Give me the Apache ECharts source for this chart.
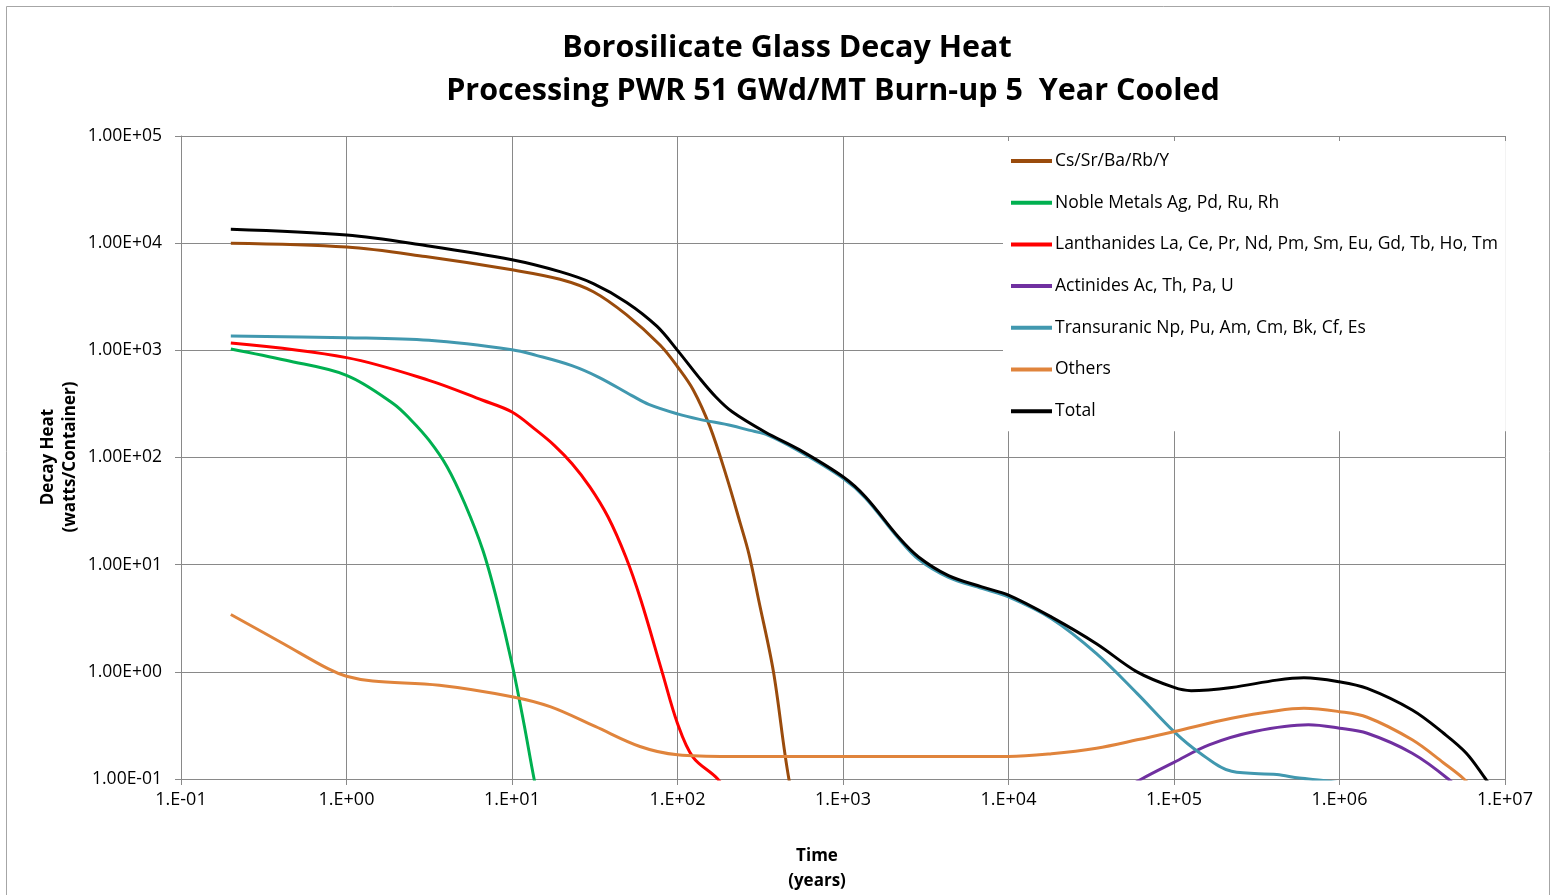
<!DOCTYPE html>
<html>
<head>
<meta charset="utf-8">
<title>Borosilicate Glass Decay Heat</title>
<script src="https://cdn.jsdelivr.net/npm/echarts@6/dist/echarts.min.js"></script>
<style>
  html, body { margin: 0; padding: 0; background: #fff; }
  #chart { width: 1557px; height: 895px; }
</style>
</head>
<body>
<div id="chart"></div>
<script>
// Decay heat per container (watts) versus time (years), by element group.
// Each series is a list of [time, watts] pairs.
const csSrBaRbY = [
  [0.2, 10000], [1, 9200], [3, 7500], [10, 5640], [19.5, 4600], [31, 3520],
  [49.3, 2140], [78.4, 1120], [100, 703], [124.5, 427], [157, 194],
  [198, 66], [240, 24], [270, 12.6], [310, 4.6], [380, 1.0], [471, 0.1],
  [550, 0.04]
];
const nobleMetals = [
  [0.2, 1030], [0.43, 807], [1, 585], [1.92, 318], [2.46, 223], [3.15, 145],
  [4.05, 82], [5.19, 37], [6.66, 13.7], [8.1, 4.7], [10, 1.19], [11.8, 0.33],
  [13.6, 0.1], [15, 0.05]
];
const lanthanides = [
  [0.2, 1170], [1, 855], [3.15, 525], [6.65, 342], [10, 266], [14, 180],
  [18, 130], [23, 88], [29.6, 53], [38, 28], [48.6, 11.9], [60, 4.7],
  [80.7, 1.0], [100, 0.33], [124, 0.16], [175, 0.1], [220, 0.06]
];
const actinides = [
  [40000, 0.065], [63700, 0.1], [100000, 0.143], [163000, 0.208],
  [306000, 0.277], [649000, 0.32], [1000000, 0.298], [1470000, 0.267],
  [2750000, 0.174], [4540000, 0.1], [6000000, 0.065]
];
const transuranic = [
  [0.2, 1360], [1, 1312], [3.15, 1240], [10, 1015], [14, 898], [23, 720],
  [33.5, 560], [53, 378], [67, 313], [100, 255], [134, 228], [214, 198],
  [270, 180], [340, 165], [540, 115], [1000, 64], [1365, 42], [2170, 17.5],
  [2860, 11.2], [4340, 7.6], [6900, 6.0], [10000, 5.0], [18200, 3.13],
  [34000, 1.48], [59800, 0.63], [100000, 0.277], [144000, 0.174],
  [223000, 0.118], [418000, 0.11], [571000, 0.102], [887000, 0.095],
  [1500000, 0.08]
];
const others = [
  [0.2, 3.43], [0.416, 1.83], [0.773, 1.07], [1, 0.91], [1.44, 0.82],
  [3.64, 0.75], [10, 0.586], [17, 0.473], [31.8, 0.309], [59.3, 0.201],
  [100, 0.168], [205, 0.162], [1080, 0.162], [10000, 0.162], [18200, 0.172],
  [34000, 0.194], [59800, 0.232], [100000, 0.277], [223000, 0.369],
  [418000, 0.434], [609000, 0.457], [1000000, 0.425], [1470000, 0.377],
  [2750000, 0.232], [4260000, 0.141], [5650000, 0.1], [7000000, 0.07]
];
const total = [
  [0.2, 13500], [1, 11900], [3, 9500], [10, 7000], [19.5, 5420], [31, 4200],
  [49.3, 2800], [75, 1680], [100, 1000], [134, 565], [170, 369], [214, 267],
  [340, 172], [540, 119], [1000, 66], [1365, 43], [2170, 18], [2860, 11.8],
  [4340, 7.9], [6900, 6.2], [10000, 5.2], [18200, 3.24], [34000, 1.83],
  [59800, 1.0], [100000, 0.715], [127000, 0.667], [223000, 0.715],
  [418000, 0.837], [609000, 0.88], [1000000, 0.807], [1470000, 0.70],
  [2750000, 0.44], [4260000, 0.267], [5840000, 0.174], [7640000, 0.1],
  [9000000, 0.07]
];

const seriesNames = [
  'Cs/Sr/Ba/Rb/Y',
  'Noble Metals Ag, Pd, Ru, Rh',
  'Lanthanides La, Ce, Pr, Nd, Pm, Sm, Eu, Gd, Tb, Ho, Tm',
  'Actinides Ac, Th, Pa, U',
  'Transuranic Np, Pu, Am, Cm, Bk, Cf, Es',
  'Others',
  'Total'
];
const seriesColors = ['#9a4b0c', '#00b050', '#ff0000', '#7030a0', '#4198af', '#e0843c', '#000000'];
const seriesData = [csSrBaRbY, nobleMetals, lanthanides, actinides, transuranic, others, total];

// Tick labels, from the lowest decade upward
const xTickLabels = ['1.E-01', '1.E+00', '1.E+01', '1.E+02', '1.E+03', '1.E+04', '1.E+05', '1.E+06', '1.E+07'];
const yTickLabels = ['1.00E-01', '1.00E+00', '1.00E+01', '1.00E+02', '1.00E+03', '1.00E+04', '1.00E+05'];

const FONT = '"Open Sans", Lato, sans-serif';
const GRID_COLOR = '#898989';

const chart = echarts.init(document.getElementById('chart'), null, { renderer: 'canvas' });

chart.setOption({
  animation: false,
  backgroundColor: '#ffffff',
  textStyle: { fontFamily: FONT, color: '#000' },
  title: [
    {
      text: 'Borosilicate Glass Decay Heat',
      left: 782, top: 28, textAlign: 'center',
      textStyle: { fontFamily: FONT, fontWeight: 'bold', fontSize: 30.5, color: '#000' }
    },
    {
      text: 'Processing PWR 51 GWd/MT Burn-up 5  Year Cooled',
      left: 828, top: 71, textAlign: 'center',
      textStyle: { fontFamily: FONT, fontWeight: 'bold', fontSize: 30.5, color: '#000' }
    }
  ],
  grid: { left: 181, right: 52, top: 136, bottom: 116, containLabel: false },
  legend: {
    orient: 'vertical',
    left: 1003, top: 141,
    padding: [10, 8, 10, 8],
    backgroundColor: '#ffffff',
    icon: 'rect',
    itemWidth: 41, itemHeight: 4,
    itemGap: 21.7,
    data: seriesNames,
    textStyle: { fontFamily: FONT, fontSize: 17.5, color: '#000', lineHeight: 20, padding: [0, 0, 0, -2] }
  },
  xAxis: {
    type: 'log', logBase: 10, min: 0.1, max: 1e7,
    axisLine: { show: true, lineStyle: { color: GRID_COLOR, width: 1 } },
    axisTick: { show: true, inside: false, length: 6, lineStyle: { color: GRID_COLOR } },
    splitLine: { show: true, lineStyle: { color: GRID_COLOR, width: 1 } },
    minorTick: { show: false }, minorSplitLine: { show: false },
    axisLabel: {
      margin: 12, fontFamily: FONT, fontSize: 18, color: '#000',
      formatter: v => xTickLabels[Math.round(Math.log10(v)) + 1]
    }
  },
  yAxis: {
    type: 'log', logBase: 10, min: 0.1, max: 1e5,
    axisLine: { show: true, lineStyle: { color: GRID_COLOR, width: 1 } },
    axisTick: { show: true, inside: false, length: 6, lineStyle: { color: GRID_COLOR } },
    splitLine: { show: true, lineStyle: { color: GRID_COLOR, width: 1 } },
    minorTick: { show: false }, minorSplitLine: { show: false },
    axisLabel: {
      margin: 19, fontFamily: FONT, fontSize: 17.5, color: '#000',
      formatter: v => yTickLabels[Math.round(Math.log10(v)) + 1]
    }
  },
  graphic: [
    {
      type: 'rect', silent: true, z: -1,
      shape: { x: 6.5, y: 6.5, width: 1543, height: 905 },
      style: { fill: 'none', stroke: '#a6a6a6', lineWidth: 1 }
    },
    {
      type: 'text', silent: true,
      x: 59, y: 457, rotation: Math.PI / 2,
      style: {
        text: 'Decay Heat\n(watts/Container)',
        font: 'bold 17px ' + FONT, fill: '#000',
        align: 'center', verticalAlign: 'middle', lineHeight: 22
      }
    },
    {
      type: 'text', silent: true,
      x: 817, y: 869,
      style: {
        text: 'Time\n(years)',
        font: 'bold 17px ' + FONT, fill: '#000',
        align: 'center', verticalAlign: 'middle', lineHeight: 25
      }
    }
  ],
  series: seriesNames.map((name, i) => ({
    name,
    type: 'line',
    data: seriesData[i],
    smooth: 0.35,
    symbol: 'none',
    showSymbol: false,
    clip: true,
    color: seriesColors[i],
    lineStyle: { color: seriesColors[i], width: 3 },
    z: 2 + i
  }))
});
</script>
</body>
</html>
